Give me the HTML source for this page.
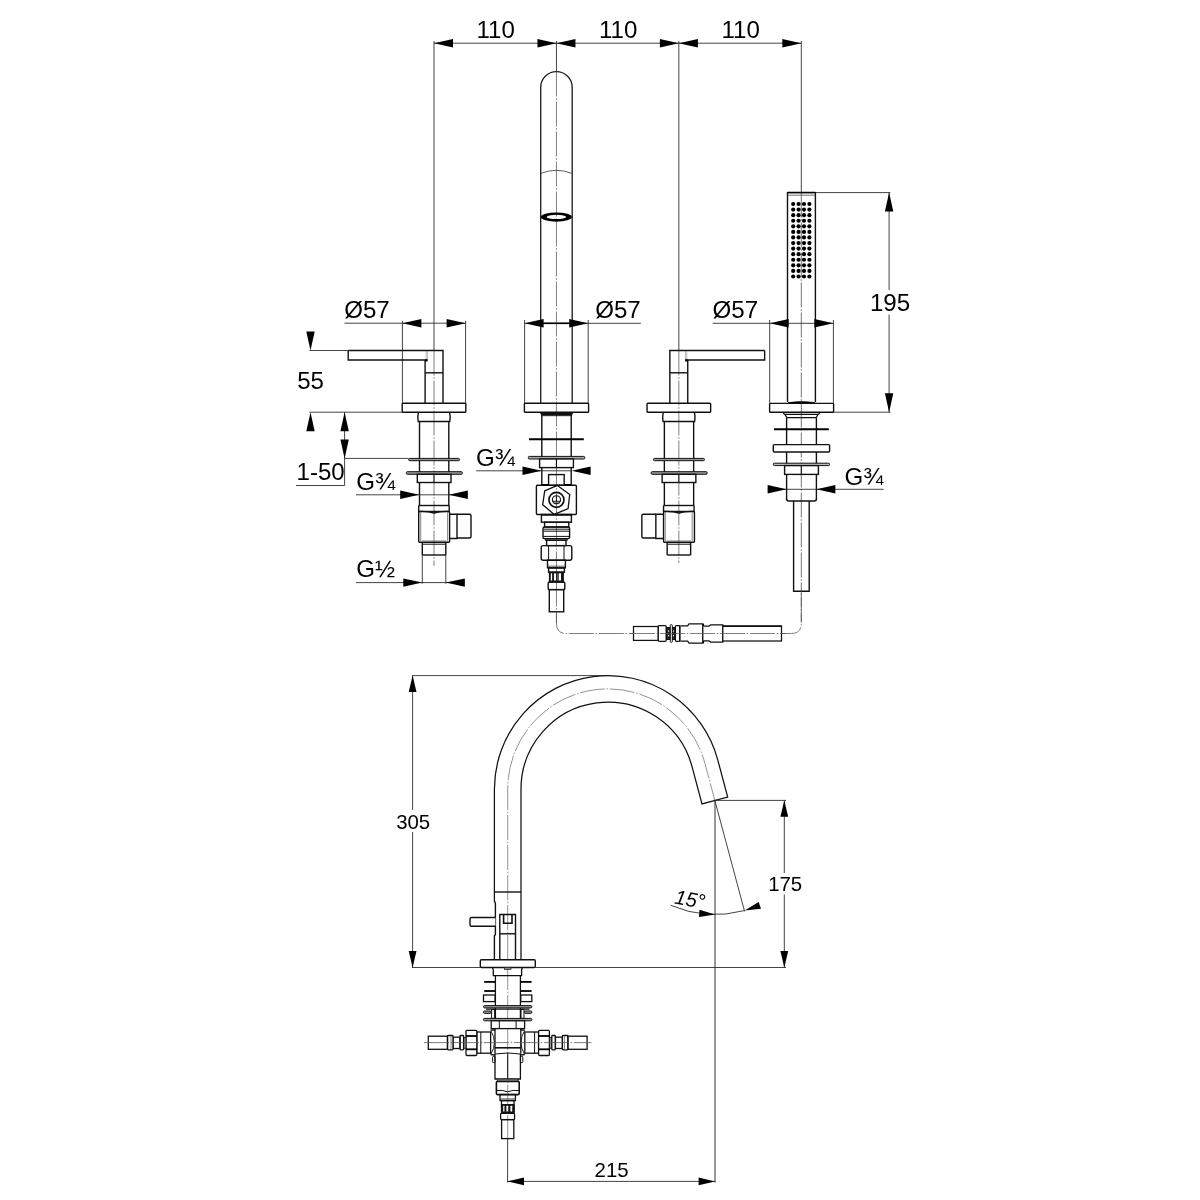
<!DOCTYPE html>
<html><head><meta charset="utf-8"><title>Drawing</title>
<style>
html,body{margin:0;padding:0;background:#fff;}
body{width:1200px;height:1200px;overflow:hidden;}
svg{display:block;will-change:transform;}
text{font-family:"Liberation Sans",Arial,Helvetica,sans-serif;fill:#000;}
</style></head><body>
<svg width="1200" height="1200" viewBox="0 0 1200 1200">
<rect x="0" y="0" width="1200" height="1200" fill="#fff"/>
<line x1="434.00" y1="43.20" x2="801.30" y2="43.20" stroke="#222" stroke-width="0.85" />
<polygon points="434.00,43.20 453.00,39.00 453.00,47.40" fill="#000"/>
<polygon points="556.45,43.20 537.45,47.40 537.45,39.00" fill="#000"/>
<polygon points="556.45,43.20 575.45,39.00 575.45,47.40" fill="#000"/>
<polygon points="678.85,43.20 659.85,47.40 659.85,39.00" fill="#000"/>
<polygon points="678.85,43.20 697.85,39.00 697.85,47.40" fill="#000"/>
<polygon points="801.30,43.20 782.30,47.40 782.30,39.00" fill="#000"/>
<line x1="434.00" y1="41.00" x2="434.00" y2="350.50" stroke="#222" stroke-width="0.85" />
<line x1="556.45" y1="41.00" x2="556.45" y2="71.50" stroke="#222" stroke-width="0.85" />
<line x1="678.85" y1="41.00" x2="678.85" y2="350.50" stroke="#222" stroke-width="0.85" />
<line x1="801.30" y1="41.00" x2="801.30" y2="192.50" stroke="#222" stroke-width="0.85" />
<line x1="402.40" y1="320.80" x2="402.40" y2="403.00" stroke="#222" stroke-width="0.85" />
<line x1="465.60" y1="320.80" x2="465.60" y2="403.00" stroke="#222" stroke-width="0.85" />
<line x1="434.00" y1="350.50" x2="434.00" y2="566.00" stroke="#555" stroke-width="0.75" stroke-dasharray="25 1.7 1.6 1.7"/>
<path d="M348.20,350.5 H443.00 V403.2" fill="none" stroke="#111" stroke-width="1.4" />
<path d="M348.20,350.5 V360 H426.70" fill="none" stroke="#111" stroke-width="1.4" />
<line x1="425.10" y1="360.00" x2="425.10" y2="403.20" stroke="#111" stroke-width="1.4" />
<line x1="425.10" y1="372.80" x2="443.00" y2="372.80" stroke="#111" stroke-width="1.4" />
<rect x="425.60" y="359.20" width="1.80" height="2.00" rx="0" ry="0" fill="#000" stroke="#000" stroke-width="0.5"/>
<line x1="426.10" y1="351.00" x2="426.10" y2="359.50" stroke="#777" stroke-width="0.5" />
<line x1="427.40" y1="351.00" x2="427.40" y2="359.50" stroke="#777" stroke-width="0.5" />
<rect x="402.20" y="403.20" width="63.60" height="9.00" rx="0.8" ry="0.8" fill="none" stroke="#111" stroke-width="1.4"/>
<path d="M418.40,412.2 Q417.40,417 418.20,421.5 H449.80 Q450.60,417 449.60,412.2" fill="none" stroke="#111" stroke-width="1.4" />
<line x1="419.50" y1="421.50" x2="419.50" y2="505.50" stroke="#111" stroke-width="1.4" />
<line x1="448.80" y1="421.50" x2="448.80" y2="505.50" stroke="#111" stroke-width="1.4" />
<rect x="408.60" y="458.40" width="51.00" height="2.30" rx="1" ry="1" fill="#999" stroke="#111" stroke-width="1.0"/>
<rect x="406.30" y="471.70" width="56.00" height="2.60" rx="1" ry="1" fill="#999" stroke="#111" stroke-width="1.0"/>
<rect x="417.30" y="474.30" width="33.70" height="8.20" rx="0" ry="0" fill="#fff" stroke="#111" stroke-width="1.4"/>
<line x1="434.00" y1="474.30" x2="434.00" y2="482.50" stroke="#111" stroke-width="1.2" />
<line x1="418.70" y1="505.50" x2="449.20" y2="505.50" stroke="#111" stroke-width="1.4" />
<line x1="418.70" y1="505.50" x2="418.70" y2="512.00" stroke="#111" stroke-width="1.4" />
<line x1="449.20" y1="505.50" x2="449.20" y2="512.00" stroke="#111" stroke-width="1.4" />
<path d="M418.70,511.5 Q428.00,511 434.00,513 Q440.00,511 449.60,511.5" fill="none" stroke="#111" stroke-width="1.4" />
<rect x="418.70" y="511.50" width="30.90" height="30.70" rx="1" ry="1" fill="none" stroke="#111" stroke-width="1.4"/>
<line x1="420.70" y1="512.50" x2="420.70" y2="541.50" stroke="#666" stroke-width="0.8" />
<line x1="447.60" y1="512.50" x2="447.60" y2="541.50" stroke="#666" stroke-width="0.8" />
<line x1="422.00" y1="541.00" x2="446.00" y2="541.00" stroke="#555" stroke-width="0.8" />
<path d="M449.60,514.2 H457.00 V538.5 H449.60" fill="none" stroke="#111" stroke-width="1.4" />
<path d="M457.00,514.2 H469.50 Q471.00,514.2 471.00,515.7 V536.5 Q471.00,538 469.50,538 H457.00" fill="none" stroke="#111" stroke-width="1.4" />
<line x1="422.30" y1="542.20" x2="422.30" y2="555.00" stroke="#111" stroke-width="1.4" />
<line x1="445.80" y1="542.20" x2="445.80" y2="555.00" stroke="#111" stroke-width="1.4" />
<line x1="422.30" y1="544.20" x2="445.80" y2="544.20" stroke="#111" stroke-width="1.0" />
<line x1="422.30" y1="555.00" x2="445.80" y2="555.00" stroke="#111" stroke-width="1.4" />
<line x1="678.85" y1="350.50" x2="678.85" y2="563.00" stroke="#555" stroke-width="0.75" stroke-dasharray="25 1.7 1.6 1.7"/>
<path d="M764.65,350.5 H669.85 V403.2" fill="none" stroke="#111" stroke-width="1.4" />
<path d="M764.65,350.5 V360 H686.15" fill="none" stroke="#111" stroke-width="1.4" />
<line x1="687.75" y1="360.00" x2="687.75" y2="403.20" stroke="#111" stroke-width="1.4" />
<line x1="687.75" y1="372.80" x2="669.85" y2="372.80" stroke="#111" stroke-width="1.4" />
<rect x="685.45" y="359.20" width="1.80" height="2.00" rx="0" ry="0" fill="#000" stroke="#000" stroke-width="0.5"/>
<line x1="686.75" y1="351.00" x2="686.75" y2="359.50" stroke="#777" stroke-width="0.5" />
<line x1="685.45" y1="351.00" x2="685.45" y2="359.50" stroke="#777" stroke-width="0.5" />
<rect x="647.05" y="403.20" width="63.60" height="9.00" rx="0.8" ry="0.8" fill="none" stroke="#111" stroke-width="1.4"/>
<path d="M663.25,412.2 Q662.25,417 663.05,421.5 H694.65 Q695.45,417 694.45,412.2" fill="none" stroke="#111" stroke-width="1.4" />
<line x1="664.35" y1="421.50" x2="664.35" y2="505.50" stroke="#111" stroke-width="1.4" />
<line x1="693.65" y1="421.50" x2="693.65" y2="505.50" stroke="#111" stroke-width="1.4" />
<rect x="653.45" y="458.40" width="51.00" height="2.30" rx="1" ry="1" fill="#999" stroke="#111" stroke-width="1.0"/>
<rect x="651.15" y="471.70" width="56.00" height="2.60" rx="1" ry="1" fill="#999" stroke="#111" stroke-width="1.0"/>
<rect x="662.15" y="474.30" width="33.70" height="8.20" rx="0" ry="0" fill="#fff" stroke="#111" stroke-width="1.4"/>
<line x1="678.85" y1="474.30" x2="678.85" y2="482.50" stroke="#111" stroke-width="1.2" />
<line x1="663.55" y1="505.50" x2="694.05" y2="505.50" stroke="#111" stroke-width="1.4" />
<line x1="663.55" y1="505.50" x2="663.55" y2="512.00" stroke="#111" stroke-width="1.4" />
<line x1="694.05" y1="505.50" x2="694.05" y2="512.00" stroke="#111" stroke-width="1.4" />
<path d="M663.55,511.5 Q672.85,511 678.85,513 Q684.85,511 694.45,511.5" fill="none" stroke="#111" stroke-width="1.4" />
<rect x="663.55" y="511.50" width="30.90" height="30.70" rx="1" ry="1" fill="none" stroke="#111" stroke-width="1.4"/>
<line x1="692.15" y1="512.50" x2="692.15" y2="541.50" stroke="#666" stroke-width="0.8" />
<line x1="665.25" y1="512.50" x2="665.25" y2="541.50" stroke="#666" stroke-width="0.8" />
<line x1="666.85" y1="541.00" x2="690.85" y2="541.00" stroke="#555" stroke-width="0.8" />
<path d="M663.25,514.2 H655.85 V538.5 H663.25" fill="none" stroke="#111" stroke-width="1.4" />
<path d="M655.85,514.2 H643.35 Q641.85,514.2 641.85,515.7 V536.5 Q641.85,538 643.35,538 H655.85" fill="none" stroke="#111" stroke-width="1.4" />
<line x1="667.15" y1="542.20" x2="667.15" y2="555.00" stroke="#111" stroke-width="1.4" />
<line x1="690.65" y1="542.20" x2="690.65" y2="555.00" stroke="#111" stroke-width="1.4" />
<line x1="667.15" y1="544.20" x2="690.65" y2="544.20" stroke="#111" stroke-width="1.0" />
<line x1="667.15" y1="555.00" x2="690.65" y2="555.00" stroke="#111" stroke-width="1.4" />
<line x1="344.50" y1="323.20" x2="465.60" y2="323.20" stroke="#222" stroke-width="0.85" />
<polygon points="402.40,323.20 421.40,319.00 421.40,327.40" fill="#000"/>
<polygon points="465.60,323.20 446.60,327.40 446.60,319.00" fill="#000"/>
<line x1="309.50" y1="350.50" x2="348.00" y2="350.50" stroke="#222" stroke-width="0.85" />
<polygon points="310.50,350.50 306.30,331.50 314.70,331.50" fill="#000"/>
<line x1="309.50" y1="412.20" x2="402.00" y2="412.20" stroke="#222" stroke-width="0.85" />
<polygon points="310.50,412.20 314.70,431.20 306.30,431.20" fill="#000"/>
<line x1="344.60" y1="412.20" x2="344.60" y2="485.50" stroke="#222" stroke-width="0.85" />
<polygon points="344.60,412.20 348.80,431.20 340.40,431.20" fill="#000"/>
<polygon points="344.60,458.40 340.40,439.40 348.80,439.40" fill="#000"/>
<line x1="344.60" y1="458.40" x2="408.50" y2="458.40" stroke="#222" stroke-width="0.85" />
<line x1="296.00" y1="485.50" x2="344.60" y2="485.50" stroke="#222" stroke-width="0.85" />
<line x1="356.00" y1="494.80" x2="467.80" y2="494.80" stroke="#222" stroke-width="0.85" />
<polygon points="419.20,494.80 400.20,499.00 400.20,490.60" fill="#000"/>
<polygon points="448.80,494.80 467.80,490.60 467.80,499.00" fill="#000"/>
<line x1="422.30" y1="555.00" x2="422.30" y2="583.60" stroke="#222" stroke-width="0.85" />
<line x1="445.80" y1="555.00" x2="445.80" y2="583.60" stroke="#222" stroke-width="0.85" />
<line x1="356.00" y1="582.60" x2="465.00" y2="582.60" stroke="#222" stroke-width="0.85" />
<polygon points="422.30,582.60 403.30,586.80 403.30,578.40" fill="#000"/>
<polygon points="445.80,582.60 464.80,578.40 464.80,586.80" fill="#000"/>
<line x1="556.45" y1="71.50" x2="556.45" y2="623.50" stroke="#555" stroke-width="0.75" stroke-dasharray="25 1.7 1.6 1.7"/>
<path d="M540.7,403 V87.4 A15.75,15.75 0 0 1 572.2,87.4 V403" fill="none" stroke="#222" stroke-width="1.35" />
<path d="M540.7,173.4 Q556.4,167.2 572.2,173.4" fill="none" stroke="#333" stroke-width="0.8" />
<path d="M540.9,217.1 a15.5,4.6 0 1 0 31,0 a15.5,4.6 0 1 0 -31,0 Z M546.6,216.9 a9.8,2.1 0 1 1 19.6,0 a9.8,2.1 0 1 1 -19.6,0 Z" fill="#000" fill-rule="evenodd" stroke="none"/>
<line x1="524.60" y1="320.00" x2="524.60" y2="403.00" stroke="#222" stroke-width="0.85" />
<line x1="588.20" y1="320.00" x2="588.20" y2="403.00" stroke="#222" stroke-width="0.85" />
<rect x="524.40" y="403.20" width="64.20" height="9.00" rx="0.8" ry="0.8" fill="none" stroke="#111" stroke-width="1.4"/>
<line x1="524.60" y1="323.30" x2="640.80" y2="323.30" stroke="#222" stroke-width="0.85" />
<polygon points="524.60,323.30 543.60,319.10 543.60,327.50" fill="#000"/>
<polygon points="588.20,323.30 569.20,327.50 569.20,319.10" fill="#000"/>
<line x1="543.00" y1="323.30" x2="570.00" y2="323.30" stroke="#000" stroke-width="1.6" />
<path d="M540.4,412.8 L572.8,412.8 L571.6,415.8 L541.6,415.8 Z" fill="#111" stroke="#111" stroke-width="0.5" />
<line x1="541.80" y1="415.00" x2="541.80" y2="485.30" stroke="#111" stroke-width="1.4" />
<line x1="571.20" y1="415.00" x2="571.20" y2="485.30" stroke="#111" stroke-width="1.4" />
<line x1="529.00" y1="439.20" x2="583.80" y2="439.20" stroke="#000" stroke-width="2.0" />
<rect x="528.30" y="456.40" width="56.50" height="2.60" rx="1" ry="1" fill="#aaa" stroke="#111" stroke-width="1.0"/>
<rect x="539.60" y="459.00" width="33.80" height="8.60" rx="0" ry="0" fill="#fff" stroke="#111" stroke-width="1.4"/>
<line x1="556.45" y1="459.00" x2="556.45" y2="467.60" stroke="#111" stroke-width="1.2" />
<line x1="476.20" y1="470.80" x2="541.50" y2="470.80" stroke="#222" stroke-width="0.85" />
<line x1="541.50" y1="470.80" x2="571.50" y2="470.80" stroke="#222" stroke-width="0.85" />
<polygon points="541.50,470.80 522.50,475.00 522.50,466.60" fill="#000"/>
<polygon points="571.60,470.80 590.60,466.60 590.60,475.00" fill="#000"/>
<rect x="548.60" y="474.60" width="15.60" height="10.70" rx="0" ry="0" fill="none" stroke="#111" stroke-width="1.4"/>
<rect x="536.40" y="485.30" width="40.00" height="29.20" rx="1" ry="1" fill="none" stroke="#111" stroke-width="1.4"/>
<path d="M544.7,490.9 L557.4,485.4 L569.7,494.5 L568.1,508.6 L554.2,514.4 L542.7,504.7 Z" fill="none" stroke="#111" stroke-width="1.3" stroke-linejoin="round"/>
<circle cx="556.45" cy="499.80" r="7.5" fill="none" stroke="#111" stroke-width="1.7"/>
<circle cx="556.45" cy="499.80" r="4.1" fill="none" stroke="#111" stroke-width="1.1"/>
<line x1="552.60" y1="501.30" x2="560.30" y2="501.30" stroke="#111" stroke-width="1.0" />
<line x1="553.60" y1="503.10" x2="559.30" y2="503.10" stroke="#111" stroke-width="0.9" />
<line x1="556.45" y1="496.00" x2="556.45" y2="501.30" stroke="#111" stroke-width="0.9" />
<line x1="541.60" y1="484.90" x2="548.60" y2="484.90" stroke="#000" stroke-width="1.8" />
<line x1="564.20" y1="484.90" x2="571.40" y2="484.90" stroke="#000" stroke-width="1.8" />
<line x1="541.40" y1="514.90" x2="571.60" y2="514.90" stroke="#111" stroke-width="1.6" />
<rect x="541.40" y="514.50" width="30.00" height="7.70" rx="0" ry="0" fill="none" stroke="#111" stroke-width="1.4"/>
<rect x="544.60" y="522.20" width="24.20" height="4.80" rx="0" ry="0" fill="none" stroke="#111" stroke-width="1.4"/>
<rect x="543.00" y="527.00" width="26.60" height="11.60" rx="1.5" ry="1.5" fill="none" stroke="#111" stroke-width="1.4"/>
<line x1="543.50" y1="529.20" x2="569.20" y2="529.20" stroke="#111" stroke-width="1.0" />
<line x1="543.50" y1="531.20" x2="569.20" y2="531.20" stroke="#111" stroke-width="1.0" />
<line x1="543.50" y1="536.40" x2="569.20" y2="536.40" stroke="#111" stroke-width="1.0" />
<rect x="545.40" y="538.60" width="21.80" height="1.60" rx="0" ry="0" fill="none" stroke="#111" stroke-width="1.0"/>
<rect x="546.60" y="540.20" width="19.40" height="5.40" rx="0" ry="0" fill="none" stroke="#111" stroke-width="1.4"/>
<rect x="541.20" y="545.60" width="30.60" height="14.60" rx="2" ry="2" fill="none" stroke="#111" stroke-width="1.4"/>
<line x1="548.60" y1="546.00" x2="548.60" y2="560.00" stroke="#111" stroke-width="1.0" />
<line x1="564.00" y1="546.00" x2="564.00" y2="560.00" stroke="#111" stroke-width="1.0" />
<rect x="547.50" y="560.20" width="17.90" height="7.60" rx="0" ry="0" fill="none" stroke="#111" stroke-width="1.4"/>
<line x1="547.50" y1="566.20" x2="565.40" y2="566.20" stroke="#333" stroke-width="0.8" />
<rect x="548.60" y="568.00" width="15.80" height="4.20" rx="0" ry="0" fill="none" stroke="#111" stroke-width="1.4"/>
<rect x="549.60" y="572.20" width="13.60" height="9.80" rx="0" ry="0" fill="#1a1a1a" stroke="#111" stroke-width="1.4"/>
<rect x="550.80" y="573.30" width="1.30" height="7.30" rx="0.5" ry="0.5" fill="#fff" stroke="none" stroke-width="0"/>
<rect x="554.00" y="573.30" width="2.00" height="7.30" rx="0.5" ry="0.5" fill="#fff" stroke="none" stroke-width="0"/>
<rect x="558.70" y="573.30" width="2.30" height="7.30" rx="0.5" ry="0.5" fill="#fff" stroke="none" stroke-width="0"/>
<line x1="557.30" y1="573.30" x2="557.30" y2="580.60" stroke="#999" stroke-width="0.6" />
<rect x="548.20" y="582.00" width="16.60" height="7.60" rx="1.2" ry="1.2" fill="none" stroke="#111" stroke-width="1.4"/>
<rect x="549.30" y="589.60" width="14.40" height="22.20" rx="0" ry="0" fill="none" stroke="#111" stroke-width="1.4"/>
<line x1="801.30" y1="192.50" x2="801.30" y2="622.50" stroke="#444" stroke-width="0.75" stroke-dasharray="25 1.7 1.6 1.7"/>
<path d="M787.5,402 V192.6 H815.4 V402" fill="none" stroke="#111" stroke-width="1.4" />
<line x1="787.50" y1="192.50" x2="815.40" y2="192.50" stroke="#000" stroke-width="1.5" />
<line x1="787.50" y1="195.20" x2="815.40" y2="195.20" stroke="#333" stroke-width="0.7" />
<circle cx="793.20" cy="204.00" r="2.1" fill="#000" stroke="none" stroke-width="0"/>
<circle cx="798.60" cy="204.00" r="2.1" fill="#000" stroke="none" stroke-width="0"/>
<circle cx="804.00" cy="204.00" r="2.1" fill="#000" stroke="none" stroke-width="0"/>
<circle cx="809.40" cy="204.00" r="2.1" fill="#000" stroke="none" stroke-width="0"/>
<circle cx="793.20" cy="209.58" r="2.1" fill="#000" stroke="none" stroke-width="0"/>
<circle cx="798.60" cy="209.58" r="2.1" fill="#000" stroke="none" stroke-width="0"/>
<circle cx="804.00" cy="209.58" r="2.1" fill="#000" stroke="none" stroke-width="0"/>
<circle cx="809.40" cy="209.58" r="2.1" fill="#000" stroke="none" stroke-width="0"/>
<circle cx="793.20" cy="215.15" r="2.1" fill="#000" stroke="none" stroke-width="0"/>
<circle cx="798.60" cy="215.15" r="2.1" fill="#000" stroke="none" stroke-width="0"/>
<circle cx="804.00" cy="215.15" r="2.1" fill="#000" stroke="none" stroke-width="0"/>
<circle cx="809.40" cy="215.15" r="2.1" fill="#000" stroke="none" stroke-width="0"/>
<circle cx="793.20" cy="220.73" r="2.1" fill="#000" stroke="none" stroke-width="0"/>
<circle cx="798.60" cy="220.73" r="2.1" fill="#000" stroke="none" stroke-width="0"/>
<circle cx="804.00" cy="220.73" r="2.1" fill="#000" stroke="none" stroke-width="0"/>
<circle cx="809.40" cy="220.73" r="2.1" fill="#000" stroke="none" stroke-width="0"/>
<circle cx="793.20" cy="226.31" r="2.1" fill="#000" stroke="none" stroke-width="0"/>
<circle cx="798.60" cy="226.31" r="2.1" fill="#000" stroke="none" stroke-width="0"/>
<circle cx="804.00" cy="226.31" r="2.1" fill="#000" stroke="none" stroke-width="0"/>
<circle cx="809.40" cy="226.31" r="2.1" fill="#000" stroke="none" stroke-width="0"/>
<circle cx="793.20" cy="231.88" r="2.1" fill="#000" stroke="none" stroke-width="0"/>
<circle cx="798.60" cy="231.88" r="2.1" fill="#000" stroke="none" stroke-width="0"/>
<circle cx="804.00" cy="231.88" r="2.1" fill="#000" stroke="none" stroke-width="0"/>
<circle cx="809.40" cy="231.88" r="2.1" fill="#000" stroke="none" stroke-width="0"/>
<circle cx="793.20" cy="237.46" r="2.1" fill="#000" stroke="none" stroke-width="0"/>
<circle cx="798.60" cy="237.46" r="2.1" fill="#000" stroke="none" stroke-width="0"/>
<circle cx="804.00" cy="237.46" r="2.1" fill="#000" stroke="none" stroke-width="0"/>
<circle cx="809.40" cy="237.46" r="2.1" fill="#000" stroke="none" stroke-width="0"/>
<circle cx="793.20" cy="243.04" r="2.1" fill="#000" stroke="none" stroke-width="0"/>
<circle cx="798.60" cy="243.04" r="2.1" fill="#000" stroke="none" stroke-width="0"/>
<circle cx="804.00" cy="243.04" r="2.1" fill="#000" stroke="none" stroke-width="0"/>
<circle cx="809.40" cy="243.04" r="2.1" fill="#000" stroke="none" stroke-width="0"/>
<circle cx="793.20" cy="248.62" r="2.1" fill="#000" stroke="none" stroke-width="0"/>
<circle cx="798.60" cy="248.62" r="2.1" fill="#000" stroke="none" stroke-width="0"/>
<circle cx="804.00" cy="248.62" r="2.1" fill="#000" stroke="none" stroke-width="0"/>
<circle cx="809.40" cy="248.62" r="2.1" fill="#000" stroke="none" stroke-width="0"/>
<circle cx="793.20" cy="254.19" r="2.1" fill="#000" stroke="none" stroke-width="0"/>
<circle cx="798.60" cy="254.19" r="2.1" fill="#000" stroke="none" stroke-width="0"/>
<circle cx="804.00" cy="254.19" r="2.1" fill="#000" stroke="none" stroke-width="0"/>
<circle cx="809.40" cy="254.19" r="2.1" fill="#000" stroke="none" stroke-width="0"/>
<circle cx="793.20" cy="259.77" r="2.1" fill="#000" stroke="none" stroke-width="0"/>
<circle cx="798.60" cy="259.77" r="2.1" fill="#000" stroke="none" stroke-width="0"/>
<circle cx="804.00" cy="259.77" r="2.1" fill="#000" stroke="none" stroke-width="0"/>
<circle cx="809.40" cy="259.77" r="2.1" fill="#000" stroke="none" stroke-width="0"/>
<circle cx="793.20" cy="265.35" r="2.1" fill="#000" stroke="none" stroke-width="0"/>
<circle cx="798.60" cy="265.35" r="2.1" fill="#000" stroke="none" stroke-width="0"/>
<circle cx="804.00" cy="265.35" r="2.1" fill="#000" stroke="none" stroke-width="0"/>
<circle cx="809.40" cy="265.35" r="2.1" fill="#000" stroke="none" stroke-width="0"/>
<circle cx="793.20" cy="270.92" r="2.1" fill="#000" stroke="none" stroke-width="0"/>
<circle cx="798.60" cy="270.92" r="2.1" fill="#000" stroke="none" stroke-width="0"/>
<circle cx="804.00" cy="270.92" r="2.1" fill="#000" stroke="none" stroke-width="0"/>
<circle cx="809.40" cy="270.92" r="2.1" fill="#000" stroke="none" stroke-width="0"/>
<circle cx="793.20" cy="276.50" r="2.1" fill="#000" stroke="none" stroke-width="0"/>
<circle cx="798.60" cy="276.50" r="2.1" fill="#000" stroke="none" stroke-width="0"/>
<circle cx="804.00" cy="276.50" r="2.1" fill="#000" stroke="none" stroke-width="0"/>
<circle cx="809.40" cy="276.50" r="2.1" fill="#000" stroke="none" stroke-width="0"/>
<line x1="815.40" y1="192.60" x2="890.30" y2="192.60" stroke="#222" stroke-width="0.85" />
<line x1="833.50" y1="412.20" x2="890.50" y2="412.20" stroke="#222" stroke-width="0.85" />
<line x1="889.10" y1="192.60" x2="889.10" y2="290.00" stroke="#222" stroke-width="0.85" />
<line x1="889.10" y1="314.50" x2="889.10" y2="412.20" stroke="#222" stroke-width="0.85" />
<polygon points="889.10,192.60 893.30,211.60 884.90,211.60" fill="#000"/>
<polygon points="889.10,412.20 884.90,393.20 893.30,393.20" fill="#000"/>
<line x1="712.60" y1="323.30" x2="833.40" y2="323.30" stroke="#222" stroke-width="0.85" />
<polygon points="769.70,323.30 788.70,319.10 788.70,327.50" fill="#000"/>
<polygon points="833.40,323.30 814.40,327.50 814.40,319.10" fill="#000"/>
<line x1="769.70" y1="320.00" x2="769.70" y2="403.00" stroke="#222" stroke-width="0.85" />
<line x1="833.40" y1="320.00" x2="833.40" y2="403.00" stroke="#222" stroke-width="0.85" />
<path d="M788.2,402.6 Q801.4,400.2 814.8,402.6 L814.8,403.2 L788.2,403.2 Z" fill="#000" stroke="#000" stroke-width="0.6" />
<rect x="769.60" y="403.40" width="64.00" height="8.80" rx="0.8" ry="0.8" fill="none" stroke="#111" stroke-width="1.4"/>
<path d="M783.4,412.6 Q783.6,414.2 785,414.6 L787,417.6 H816 L818,414.6 Q819.4,414.2 819.6,412.6" fill="none" stroke="#111" stroke-width="1.2" />
<line x1="784.60" y1="414.30" x2="818.40" y2="414.30" stroke="#111" stroke-width="1.2" />
<line x1="786.60" y1="417.60" x2="786.60" y2="500.00" stroke="#111" stroke-width="1.4" />
<line x1="816.40" y1="417.60" x2="816.40" y2="500.00" stroke="#111" stroke-width="1.4" />
<line x1="774.00" y1="429.20" x2="828.80" y2="429.20" stroke="#000" stroke-width="2.0" />
<rect x="773.30" y="444.60" width="56.30" height="7.40" rx="1" ry="1" fill="#fff" stroke="#111" stroke-width="1.4"/>
<rect x="773.30" y="463.20" width="56.30" height="2.40" rx="1" ry="1" fill="#bbb" stroke="#111" stroke-width="1.0"/>
<rect x="784.60" y="465.60" width="33.80" height="8.80" rx="0" ry="0" fill="#fff" stroke="#111" stroke-width="1.4"/>
<line x1="801.30" y1="465.60" x2="801.30" y2="474.40" stroke="#111" stroke-width="1.2" />
<path d="M786.6,499 Q786.6,501 788.6,501 H814.4 Q816.4,501 816.4,499" fill="none" stroke="#111" stroke-width="1.4" />
<line x1="767.80" y1="489.30" x2="883.70" y2="489.30" stroke="#222" stroke-width="0.85" />
<polygon points="786.60,489.30 767.60,493.50 767.60,485.10" fill="#000"/>
<polygon points="816.40,489.30 835.40,485.10 835.40,493.50" fill="#000"/>
<path d="M793.6,501 V591.2 H809.2 V501" fill="none" stroke="#111" stroke-width="1.4" />
<path d="M556.45,612 V623.5 Q556.45,633.5 566.45,633.5 H791.3 Q801.3,633.5 801.3,623.5 V591.2" fill="none" stroke="#555" stroke-width="0.75" stroke-dasharray="25 1.7 1.6 1.7"/>
<rect x="633.50" y="626.50" width="24.80" height="13.90" rx="0" ry="0" fill="#fff" stroke="#111" stroke-width="1.25"/>
<rect x="658.30" y="625.50" width="7.90" height="15.80" rx="1" ry="1" fill="#fff" stroke="#111" stroke-width="1.25"/>
<rect x="666.40" y="627.50" width="8.80" height="12.00" rx="0" ry="0" fill="#222" stroke="#111" stroke-width="1.0"/>
<circle cx="668.60" cy="631.00" r="0.7" fill="#fff" stroke="none" stroke-width="0"/>
<circle cx="673.40" cy="631.00" r="0.7" fill="#fff" stroke="none" stroke-width="0"/>
<circle cx="668.60" cy="635.80" r="0.7" fill="#fff" stroke="none" stroke-width="0"/>
<circle cx="673.40" cy="635.80" r="0.7" fill="#fff" stroke="none" stroke-width="0"/>
<rect x="670.30" y="624.60" width="2.00" height="17.80" rx="0.8" ry="0.8" fill="#fff" stroke="#000" stroke-width="0.9"/>
<rect x="675.40" y="625.50" width="4.60" height="15.80" rx="1" ry="1" fill="#fff" stroke="#111" stroke-width="1.25"/>
<line x1="680.20" y1="625.60" x2="680.20" y2="641.20" stroke="#000" stroke-width="2.0" />
<path d="M680.6,625.8 H687.6 L689,623.9 H703.0 V643.2 H689 L687.6,641.0 H680.6" fill="#fff" stroke="#111" stroke-width="1.25" />
<line x1="703.20" y1="624.00" x2="703.20" y2="643.00" stroke="#000" stroke-width="1.8" />
<path d="M703.4,626.0 H709 L710.6,624.8 H722.8 V642.0 H710.6 L709,640.8 H703.4" fill="#fff" stroke="#111" stroke-width="1.25" />
<rect x="722.80" y="626.00" width="58.70" height="15.00" rx="0" ry="0" fill="#fff" stroke="#111" stroke-width="1.25"/>
<line x1="722.80" y1="626.20" x2="781.50" y2="626.20" stroke="#111" stroke-width="1.6" />
<line x1="630.00" y1="633.50" x2="786.00" y2="633.50" stroke="#555" stroke-width="0.75" stroke-dasharray="25 1.7 1.6 1.7"/>
<path d="M507.70,1140 V789.2 A100.3,100.3 0 0 1 704.88,763.24 L714.85,800.43" fill="none" stroke="#666" stroke-width="0.7" stroke-dasharray="25 1.7 1.6 1.7"/>
<path d="M494.40,901.5 V789.2 A113.6,113.6 0 0 1 717.73,759.80 L727.69,796.99 L702.00,803.87 L692.04,766.68 A87.0,87.0 0 0 0 521.00,789.2 V959.7" fill="none" stroke="#111" stroke-width="1.25" />
<line x1="494.40" y1="892.00" x2="521.00" y2="892.00" stroke="#111" stroke-width="1.4" />
<path d="M494.40,901 L495.40,903.5 V934.5 L494.40,936 V959.7" fill="none" stroke="#111" stroke-width="1.4" />
<path d="M495.4,917.5 H471.5 Q470,917.5 470,919 V924.8 Q470,926.3 471.5,926.3 H495.4" fill="#fff" stroke="#111" stroke-width="1.4" />
<path d="M499.8,959.7 V914.5 H515.5 V959.7" fill="none" stroke="#111" stroke-width="1.4" />
<line x1="499.80" y1="933.80" x2="515.50" y2="933.80" stroke="#111" stroke-width="1.4" />
<path d="M503.6,914.5 V923.2 H512.0 V914.5" fill="none" stroke="#111" stroke-width="1.6" />
<rect x="480.30" y="959.70" width="55.00" height="7.80" rx="1.2" ry="1.2" fill="#fff" stroke="#111" stroke-width="1.4"/>
<line x1="412.00" y1="967.50" x2="480.30" y2="967.50" stroke="#222" stroke-width="0.85" />
<line x1="535.30" y1="967.50" x2="786.00" y2="967.50" stroke="#222" stroke-width="0.85" />
<path d="M492.4,967.9 Q493.2,968.6 493.3,970 V975.6 H521.6 V970 Q521.7,968.6 522.5,967.9" fill="none" stroke="#111" stroke-width="1.3" />
<rect x="504.50" y="967.80" width="6.50" height="1.80" rx="0" ry="0" fill="#999" stroke="#333" stroke-width="0.8"/>
<line x1="495.40" y1="975.50" x2="495.40" y2="1020.80" stroke="#111" stroke-width="1.3" />
<line x1="520.40" y1="975.50" x2="520.40" y2="1020.80" stroke="#111" stroke-width="1.3" />
<line x1="484.20" y1="981.90" x2="495.00" y2="981.90" stroke="#000" stroke-width="1.8" />
<line x1="484.20" y1="991.00" x2="495.00" y2="991.00" stroke="#000" stroke-width="1.8" />
<line x1="520.80" y1="981.90" x2="531.60" y2="981.90" stroke="#000" stroke-width="1.8" />
<line x1="520.80" y1="991.00" x2="531.60" y2="991.00" stroke="#000" stroke-width="1.8" />
<rect x="483.50" y="995.00" width="11.50" height="6.60" rx="0" ry="0" fill="#fff" stroke="#111" stroke-width="1.3"/>
<rect x="520.80" y="995.00" width="11.00" height="6.60" rx="0" ry="0" fill="#fff" stroke="#111" stroke-width="1.3"/>
<rect x="483.50" y="1005.60" width="48.30" height="2.30" rx="1" ry="1" fill="#999" stroke="#111" stroke-width="1.0"/>
<line x1="486.00" y1="1009.20" x2="529.40" y2="1009.20" stroke="#111" stroke-width="1.2" />
<rect x="483.50" y="1011.00" width="7.50" height="2.40" rx="1" ry="1" fill="#999" stroke="#111" stroke-width="1.0"/>
<rect x="524.60" y="1011.00" width="7.20" height="2.40" rx="1" ry="1" fill="#999" stroke="#111" stroke-width="1.0"/>
<rect x="491.60" y="1009.40" width="3.00" height="9.00" rx="0" ry="0" fill="none" stroke="#111" stroke-width="1.0"/>
<rect x="521.00" y="1009.40" width="3.00" height="9.00" rx="0" ry="0" fill="none" stroke="#111" stroke-width="1.0"/>
<rect x="483.50" y="1018.40" width="48.30" height="2.40" rx="1" ry="1" fill="#999" stroke="#111" stroke-width="1.0"/>
<rect x="491.20" y="1020.80" width="33.40" height="7.80" rx="0" ry="0" fill="#fff" stroke="#111" stroke-width="1.3"/>
<line x1="499.30" y1="1020.80" x2="499.30" y2="1028.60" stroke="#111" stroke-width="1.0" />
<line x1="516.10" y1="1020.80" x2="516.10" y2="1028.60" stroke="#111" stroke-width="1.0" />
<path d="M495,1028.6 V1053.5 M520.8,1028.6 V1053.5" fill="none" stroke="#111" stroke-width="1.3" />
<line x1="495.00" y1="1047.80" x2="520.80" y2="1047.80" stroke="#111" stroke-width="1.6" />
<path d="M495,1054 Q507.8,1052 520.4,1054" fill="none" stroke="#111" stroke-width="1.0" />
<path d="M495.0,1053.5 V1079 H520.4 V1053.5" fill="none" stroke="#111" stroke-width="1.3" />
<rect x="492.60" y="1056.40" width="2.40" height="6.20" rx="0.8" ry="0.8" fill="none" stroke="#111" stroke-width="1.0"/>
<rect x="520.40" y="1056.40" width="2.40" height="6.20" rx="0.8" ry="0.8" fill="none" stroke="#111" stroke-width="1.0"/>
<line x1="507.70" y1="1053.00" x2="507.70" y2="1079.00" stroke="#111" stroke-width="1.0" />
<path d="M495.00,1030 L490.50,1030.2 M495.00,1055 L490.50,1054.6" fill="none" stroke="#111" stroke-width="1.3" />
<path d="M490.90,1030.8 Q498.00,1042.5 490.90,1054.2" fill="none" stroke="#222" stroke-width="1.0" />
<rect x="476.80" y="1032.00" width="13.80" height="21.20" rx="0" ry="0" fill="none" stroke="#111" stroke-width="1.3"/>
<line x1="480.80" y1="1032.00" x2="480.80" y2="1053.20" stroke="#111" stroke-width="1.0" />
<rect x="466.00" y="1030.30" width="10.80" height="25.20" rx="1" ry="1" fill="#fff" stroke="#111" stroke-width="1.3"/>
<line x1="466.00" y1="1036.00" x2="476.80" y2="1036.00" stroke="#000" stroke-width="1.8" />
<line x1="466.00" y1="1049.30" x2="476.80" y2="1049.30" stroke="#000" stroke-width="1.8" />
<rect x="463.60" y="1037.50" width="2.40" height="10.80" rx="0" ry="0" fill="#999" stroke="#111" stroke-width="0.8"/>
<rect x="460.00" y="1035.50" width="3.60" height="14.30" rx="0.8" ry="0.8" fill="#fff" stroke="#111" stroke-width="1.3"/>
<rect x="453.00" y="1037.20" width="7.00" height="11.30" rx="0" ry="0" fill="none" stroke="#111" stroke-width="1.3"/>
<rect x="447.50" y="1035.50" width="5.50" height="14.30" rx="0.8" ry="0.8" fill="#fff" stroke="#111" stroke-width="1.3"/>
<line x1="451.00" y1="1036.00" x2="451.00" y2="1049.40" stroke="#555" stroke-width="0.7" />
<rect x="428.30" y="1036.20" width="19.20" height="13.10" rx="0" ry="0" fill="none" stroke="#111" stroke-width="1.3"/>
<path d="M520.40,1030 L524.90,1030.2 M520.40,1055 L524.90,1054.6" fill="none" stroke="#111" stroke-width="1.3" />
<path d="M524.50,1030.8 Q517.40,1042.5 524.50,1054.2" fill="none" stroke="#222" stroke-width="1.0" />
<rect x="524.80" y="1032.00" width="13.80" height="21.20" rx="0" ry="0" fill="none" stroke="#111" stroke-width="1.3"/>
<line x1="534.60" y1="1032.00" x2="534.60" y2="1053.20" stroke="#111" stroke-width="1.0" />
<rect x="538.60" y="1030.30" width="10.80" height="25.20" rx="1" ry="1" fill="#fff" stroke="#111" stroke-width="1.3"/>
<line x1="549.40" y1="1036.00" x2="538.60" y2="1036.00" stroke="#000" stroke-width="1.8" />
<line x1="549.40" y1="1049.30" x2="538.60" y2="1049.30" stroke="#000" stroke-width="1.8" />
<rect x="549.40" y="1037.50" width="2.40" height="10.80" rx="0" ry="0" fill="#999" stroke="#111" stroke-width="0.8"/>
<rect x="551.80" y="1035.50" width="3.60" height="14.30" rx="0.8" ry="0.8" fill="#fff" stroke="#111" stroke-width="1.3"/>
<rect x="555.40" y="1037.20" width="7.00" height="11.30" rx="0" ry="0" fill="none" stroke="#111" stroke-width="1.3"/>
<rect x="562.40" y="1035.50" width="5.50" height="14.30" rx="0.8" ry="0.8" fill="#fff" stroke="#111" stroke-width="1.3"/>
<line x1="564.40" y1="1036.00" x2="564.40" y2="1049.40" stroke="#555" stroke-width="0.7" />
<rect x="567.90" y="1036.20" width="19.20" height="13.10" rx="0" ry="0" fill="none" stroke="#111" stroke-width="1.3"/>
<line x1="424.00" y1="1042.60" x2="591.50" y2="1042.60" stroke="#555" stroke-width="0.75" stroke-dasharray="25 1.7 1.6 1.7"/>
<rect x="497.60" y="1079.20" width="20.40" height="2.20" rx="0" ry="0" fill="#bbb" stroke="#222" stroke-width="0.8"/>
<rect x="496.40" y="1081.40" width="22.80" height="13.20" rx="1.0" ry="1.0" fill="none" stroke="#111" stroke-width="1.6"/>
<path d="M496.6,1090.6 Q502,1089.6 507.7,1091.8 Q513,1089.6 518.8,1090.6" fill="none" stroke="#111" stroke-width="1.0" />
<rect x="500.00" y="1094.50" width="15.40" height="6.10" rx="0" ry="0" fill="none" stroke="#111" stroke-width="1.3"/>
<line x1="500.00" y1="1099.00" x2="515.40" y2="1099.00" stroke="#444" stroke-width="1.0" />
<rect x="501.50" y="1100.60" width="12.50" height="4.20" rx="0" ry="0" fill="none" stroke="#111" stroke-width="1.3"/>
<rect x="501.50" y="1104.80" width="12.70" height="7.80" rx="0" ry="0" fill="#1a1a1a" stroke="#111" stroke-width="1.3"/>
<rect x="503.20" y="1105.80" width="1.20" height="5.80" rx="0.4" ry="0.4" fill="#fff" stroke="none" stroke-width="0"/>
<rect x="506.40" y="1105.80" width="1.80" height="5.80" rx="0.4" ry="0.4" fill="#fff" stroke="none" stroke-width="0"/>
<rect x="510.40" y="1105.80" width="1.80" height="5.80" rx="0.4" ry="0.4" fill="#fff" stroke="none" stroke-width="0"/>
<rect x="500.60" y="1113.40" width="14.00" height="6.20" rx="1" ry="1" fill="none" stroke="#111" stroke-width="1.3"/>
<rect x="501.60" y="1119.60" width="12.20" height="19.00" rx="0" ry="0" fill="none" stroke="#111" stroke-width="1.3"/>
<line x1="412.00" y1="675.60" x2="606.00" y2="675.60" stroke="#222" stroke-width="0.85" />
<line x1="412.60" y1="675.60" x2="412.60" y2="810.00" stroke="#222" stroke-width="0.85" />
<line x1="412.60" y1="832.00" x2="412.60" y2="967.50" stroke="#222" stroke-width="0.85" />
<polygon points="412.60,675.60 416.50,692.00 408.70,692.00" fill="#000"/>
<polygon points="412.60,967.50 408.70,951.10 416.50,951.10" fill="#000"/>
<line x1="507.60" y1="1138.60" x2="507.60" y2="1182.60" stroke="#222" stroke-width="0.85" />
<line x1="715.00" y1="800.40" x2="715.00" y2="1182.60" stroke="#333" stroke-width="1.0" />
<line x1="507.60" y1="1181.40" x2="715.00" y2="1181.40" stroke="#222" stroke-width="0.85" />
<polygon points="507.60,1181.40 524.00,1177.60 524.00,1185.20" fill="#000"/>
<polygon points="715.00,1181.40 698.60,1185.20 698.60,1177.60" fill="#000"/>
<line x1="715.20" y1="800.40" x2="786.00" y2="800.40" stroke="#222" stroke-width="0.85" />
<line x1="784.30" y1="800.40" x2="784.30" y2="873.00" stroke="#222" stroke-width="0.85" />
<line x1="784.30" y1="894.50" x2="784.30" y2="967.50" stroke="#222" stroke-width="0.85" />
<polygon points="784.30,800.40 788.20,816.80 780.40,816.80" fill="#000"/>
<polygon points="784.30,967.50 780.40,951.10 788.20,951.10" fill="#000"/>
<line x1="714.85" y1="800.43" x2="744.60" y2="911.40" stroke="#222" stroke-width="0.85" />
<path d="M670.66,905.34 A114.0,114.0 0 0 0 744.71,910.52" fill="none" stroke="#222" stroke-width="0.85" />
<polygon points="715.20,914.40 698.99,916.88 699.49,909.69" fill="#000"/>
<polygon points="744.71,910.52 758.66,901.90 761.01,908.71" fill="#000"/>
<defs><filter id="idf" x="0" y="0" width="1200" height="1200" filterUnits="userSpaceOnUse"><feOffset dx="0" dy="0"/></filter></defs>
<g filter="url(#idf)">
<text x="495.60" y="38.30" font-size="24.1" text-anchor="middle" >110</text>
<text x="618.10" y="38.30" font-size="24.1" text-anchor="middle" >110</text>
<text x="740.60" y="38.30" font-size="24.1" text-anchor="middle" >110</text>
<text x="344.20" y="317.70" font-size="24.1" text-anchor="start" >Ø57</text>
<text x="297.20" y="388.90" font-size="24.1" text-anchor="start" >55</text>
<text x="296.50" y="480.00" font-size="24.1" text-anchor="start" >1-50</text>
<text x="356.30" y="489.50" font-size="24.1" text-anchor="start" >G¾</text>
<text x="356.30" y="577.10" font-size="24.1" text-anchor="start" >G½</text>
<text x="595.20" y="317.70" font-size="24.1" text-anchor="start" >Ø57</text>
<text x="476.00" y="465.90" font-size="24.1" text-anchor="start" >G¾</text>
<text x="890.00" y="311.10" font-size="24.1" text-anchor="middle" >195</text>
<text x="712.60" y="317.70" font-size="24.1" text-anchor="start" >Ø57</text>
<text x="844.40" y="484.70" font-size="24.1" text-anchor="start" >G¾</text>
<text x="413.20" y="828.80" font-size="20.4" text-anchor="middle" >305</text>
<text x="611.60" y="1176.80" font-size="20.4" text-anchor="middle" >215</text>
<text x="785.20" y="891.40" font-size="20.4" text-anchor="middle" >175</text>
<text x="673.80" y="903.50" font-size="20.3" text-anchor="start" font-style="italic" transform="rotate(10 674.0 902.5)">15°</text>
</g>
</svg>
</body></html>
